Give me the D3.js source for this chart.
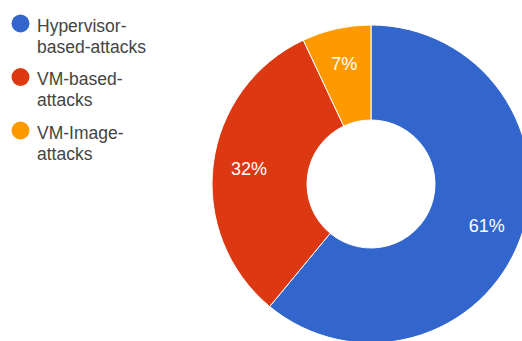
<!DOCTYPE html>
<html>
<head>
<meta charset="utf-8">
<script src="https://cdn.jsdelivr.net/npm/d3@7"></script>
<style>
  html, body { margin: 0; padding: 0; background: #fff; }
  svg { display: block; }
</style>
</head>
<body>
<div id="chart"></div>
<script>
const width = 522;
const height = 341;

const categories = ["Hypervisor-based-attacks", "VM-based-attacks", "VM-Image-attacks"];
const legendLines = [["Hypervisor-", "based-attacks"], ["VM-based-", "attacks"], ["VM-Image-", "attacks"]];
const values = [61, 32, 7];
const colors = ["#3366cc", "#dc3912", "#ff9900"];

const cx = 371, cy = 184;
const outerR = 159, innerR = 64, labelR = 123;

const svg = d3.select("#chart")
    .append("svg")
    .attr("width", width)
    .attr("height", height);

const data = categories.map((c, i) => ({ name: c, value: values[i], color: colors[i] }));

const pie = d3.pie()
    .sort(null)
    .value(d => d.value);

const arc = d3.arc()
    .innerRadius(innerR)
    .outerRadius(outerR);

const labelArc = d3.arc()
    .innerRadius(labelR)
    .outerRadius(labelR);

const total = d3.sum(values);

const g = svg.append("g")
    .attr("transform", `translate(${cx},${cy})`);

const slices = g.selectAll(".slice")
    .data(pie(data))
    .enter().append("g")
    .attr("class", "slice");

slices.append("path")
    .attr("d", arc)
    .attr("fill", d => d.data.color)
    .attr("stroke", "#fff")
    .attr("stroke-width", 1);

slices.append("text")
    .attr("transform", d => `translate(${labelArc.centroid(d)})`)
    .attr("dy", "0.36em")
    .attr("text-anchor", "middle")
    .attr("fill", "#fff")
    .attr("font-family", "'Liberation Sans', Arial, sans-serif")
    .attr("font-size", 18)
    .text(d => Math.round(d.data.value / total * 100) + "%");

// legend
const legend = svg.append("g");

const item = legend.selectAll(".item")
    .data(data)
    .enter().append("g")
    .attr("class", "item")
    .attr("transform", (d, i) => `translate(0,${23.5 + i * 53.5})`);

item.append("circle")
    .attr("cx", 20.5)
    .attr("cy", 0)
    .attr("r", 9)
    .attr("fill", d => d.color);

item.append("text")
    .attr("x", 37)
    .attr("y", 8)
    .attr("font-family", "'Liberation Sans', Arial, sans-serif")
    .attr("font-size", 17.5)
    .attr("fill", "#444")
    .selectAll("tspan")
    .data((d, i) => legendLines[i])
    .enter().append("tspan")
    .attr("x", 37)
    .attr("dy", (d, i) => i === 0 ? 0 : 21)
    .text(d => d);
</script>
</body>
</html>
